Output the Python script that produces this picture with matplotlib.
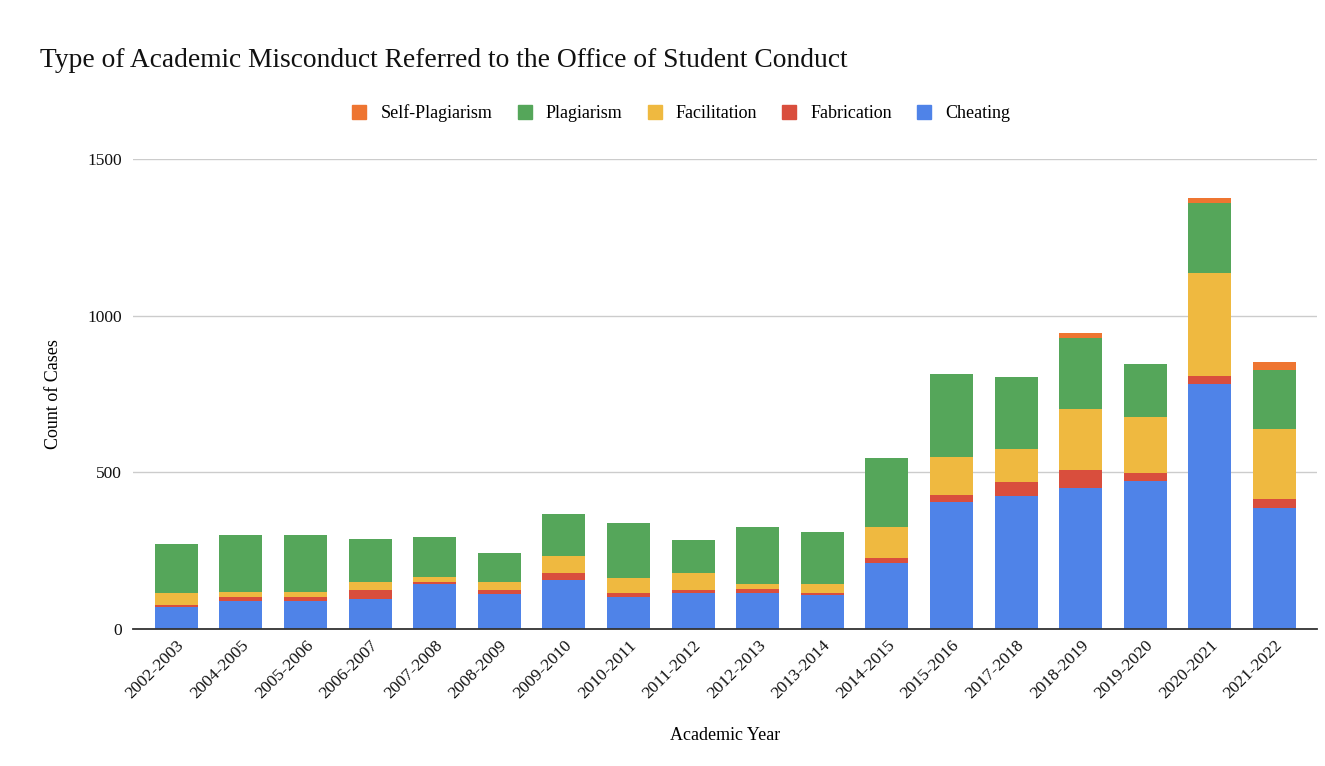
import numpy as np
import matplotlib
matplotlib.use("Agg")
import matplotlib.pyplot as plt
from matplotlib.lines import Line2D

plt.rcParams['font.family'] = ['Liberation Serif', 'DejaVu Serif']

years = ["2002-2003", "2004-2005", "2005-2006", "2006-2007", "2007-2008",
         "2008-2009", "2009-2010", "2010-2011", "2011-2012", "2012-2013",
         "2013-2014", "2014-2015", "2015-2016", "2017-2018", "2018-2019",
         "2019-2020", "2020-2021", "2021-2022"]

cheating = [71, 88, 88, 96, 142, 113, 155, 102, 114, 114, 108, 209, 406, 423, 451, 471, 781, 387]
fabrication = [7, 14, 14, 29, 8, 12, 25, 13, 11, 14, 7, 17, 22, 45, 55, 28, 27, 29]
facilitation = [36, 16, 16, 24, 17, 24, 54, 48, 55, 17, 30, 98, 122, 108, 196, 178, 329, 221]
plagiarism = [157, 183, 183, 139, 126, 94, 134, 174, 105, 182, 164, 222, 264, 228, 228, 170, 222, 188]
self_plagiarism = [0, 0, 0, 0, 0, 0, 0, 0, 0, 0, 0, 0, 0, 0, 14, 0, 16, 26]

series = [
    ("Cheating", cheating, "#4f83e8"),
    ("Fabrication", fabrication, "#d94e3d"),
    ("Facilitation", facilitation, "#efb940"),
    ("Plagiarism", plagiarism, "#55a65a"),
    ("Self-Plagiarism", self_plagiarism, "#ee7531"),
]

fig = plt.figure(figsize=(13.25, 7.66), dpi=100)
ax = fig.add_axes([0.1004, 0.1789, 0.8936, 0.6135])

x = np.arange(len(years))
bottom = np.zeros(len(years))
for name, vals, color in series:
    vals = np.array(vals, dtype=float)
    ax.bar(x, vals, bottom=bottom, width=0.666, color=color, label=name, zorder=3)
    bottom += vals

ax.set_xlim(-0.67, len(years) - 1 + 0.66)
ax.set_ylim(0, 1500)
ax.set_yticks([0, 500, 1000, 1500])
ax.yaxis.grid(True, color="#cccccc", linewidth=1, zorder=0)
for s in ["left", "right", "top"]:
    ax.spines[s].set_visible(False)
ax.spines["bottom"].set_color("#333333")
ax.spines["bottom"].set_linewidth(1.3)
ax.spines["bottom"].set_zorder(4)
ax.tick_params(axis="both", length=0, labelsize=12.5, colors="#111111")
ax.tick_params(axis="y", pad=8)
ax.tick_params(axis="x", pad=6)
ax.set_xticks(x)
ax.set_xticklabels(years, rotation=45, ha="right", rotation_mode="anchor", fontsize=12.5)

ax.set_ylabel("Count of Cases", fontsize=13, labelpad=18)
ax.set_xlabel("Academic Year", fontsize=13, labelpad=18)

fig.text(0.03, 0.921, "Type of Academic Misconduct Referred to the Office of Student Conduct",
         fontsize=19.8, va="center", ha="left", color="#111111")

# legend in reverse stacking order, square markers
handles = [Line2D([], [], marker="s", linestyle="none", markersize=10,
                  markerfacecolor=c, markeredgecolor=c, label=n)
           for n, _, c in reversed(series)]
fig.legend(handles=handles, loc="center", bbox_to_anchor=(0.51, 0.852), ncol=5,
           frameon=False, fontsize=13, handletextpad=0.15, columnspacing=0.8)

fig.savefig("out.png", dpi=100, facecolor="white")
